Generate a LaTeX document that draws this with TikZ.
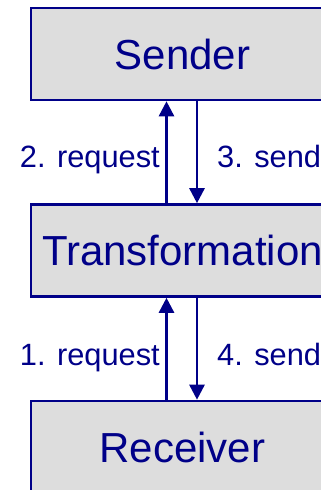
\documentclass[tikz,border=0pt]{standalone}
\usepackage{fontspec}
\setmainfont{Liberation Sans}
\usetikzlibrary{arrows.meta}
\definecolor{navy}{HTML}{000088}
\definecolor{boxgray}{HTML}{DDDDDD}
\tikzset{
  box/.style={draw=navy, fill=boxgray, line width=2.6pt, minimum width=303pt, minimum height=92pt, inner sep=0pt, text=navy, font=\fontsize{42}{50}\selectfont},
  lbl/.style={inner sep=0pt, text=navy, font=\fontsize{30.8}{37}\selectfont},
  conn/.style={draw=navy, line width=2.6pt, -{Triangle[length=15pt,width=15pt]}}
}
\begin{document}
\begin{tikzpicture}[x=1pt,y=1pt]
\useasboundingbox (0,0) rectangle (321,-490);
\node[box] (sender) at (182.5,-54) {Sender};
\node[box] (trans) at (182.5,-250.5) {Transformation};
\node[box] (receiver) at (182.5,-447) {Receiver};
\draw[conn] ([xshift=-16pt]trans.north) -- ([xshift=-16pt]sender.south);
\draw[conn] ([xshift=14.5pt]sender.south) -- ([xshift=14.5pt]trans.north);
\draw[conn] ([xshift=-16pt]receiver.north) -- ([xshift=-16pt]trans.south);
\draw[conn] ([xshift=14.5pt]trans.south) -- ([xshift=14.5pt]receiver.north);
\node[lbl, anchor=base east] (l2) at (160,-167) {2. request};
\node[lbl, anchor=base west] (l3) at (217,-167) {3. send};
\node[lbl, anchor=base east] (l1) at (160,-365) {1. request};
\node[lbl, anchor=base west] (l4) at (217,-365) {4. send};
\end{tikzpicture}
\end{document}
